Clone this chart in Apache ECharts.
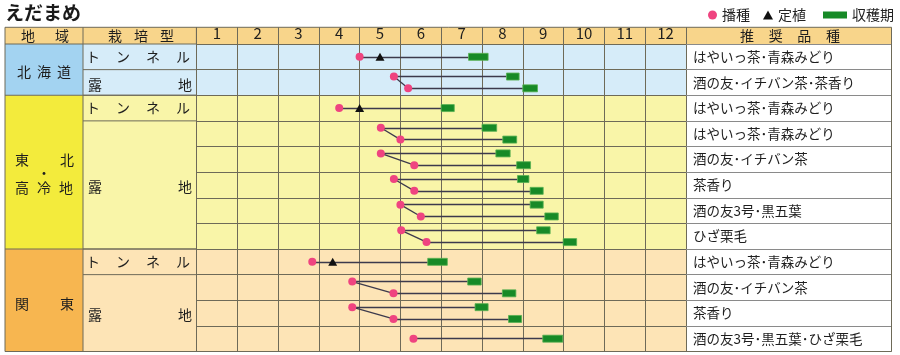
<!DOCTYPE html>
<html>
<head>
<meta charset="utf-8">
<script src="https://cdn.jsdelivr.net/npm/echarts@6/dist/echarts.min.js"></script>
<style>
  html, body { margin: 0; padding: 0; background: #fff; }
  #chart { width: 900px; height: 355px; }
</style>
</head>
<body>
<div id="chart"></div>
<script>
// ---- data ----
const months = ['1', '2', '3', '4', '5', '6', '7', '8', '9', '10', '11', '12']
const varieties = [
  'はやいっ茶･青森みどり', '酒の友･イチバン茶･茶香り',
  'はやいっ茶･青森みどり', 'はやいっ茶･青森みどり', '酒の友･イチバン茶', '茶香り', '酒の友3号･黒五葉', 'ひざ栗毛',
  'はやいっ茶･青森みどり', '酒の友･イチバン茶', '茶香り', '酒の友3号･黒五葉･ひざ栗毛'
]
const regionNames = ['北海道', '東北・高冷地', '関東']
const regionRows = [[0, 2], [2, 8], [8, 12]]
const cultNames = ['トンネル', '露地', 'トンネル', '露地', 'トンネル', '露地']
const cultRows = [[0, 1], [1, 2], [2, 3], [3, 8], [8, 9], [9, 12]]

// one entry per drawn line (month values: 0 = start of Jan, 12 = end of Dec)
const laneRow = [0, 1, 1, 2, 3, 3, 4, 4, 5, 5, 6, 6, 7, 7, 8, 9, 9, 10, 10, 11]
const sowing = [4.0, 4.84, 5.19, 3.5, 4.52, 5.0, 4.52, 5.34, 4.84, 5.34, 5.0, 5.5, 5.02, 5.64, 2.84, 3.82, 4.83, 3.82, 4.83, 5.32]
const planting = [4.5, null, null, 4.0, null, null, null, null, null, null, null, null, null, null, 3.34, null, null, null, null, null]
const harvestStart = [6.67, 7.6, 8.0, 6.0, 7.0, 7.51, 7.34, 7.85, 7.87, 8.18, 8.18, 8.54, 8.34, 8.99, 5.67, 6.65, 7.5, 6.83, 7.65, 8.49]
const harvestEnd = [7.15, 7.91, 8.36, 6.32, 7.36, 7.85, 7.69, 8.19, 8.15, 8.5, 8.5, 8.87, 8.67, 9.32, 6.15, 6.98, 7.83, 7.15, 7.97, 8.98]

// ---- layout ----
const FONT = 'Noto Sans CJK JP'
const HEAD_TOP = 27.3
const TOP = 44
const BOTTOM = 351.5
const X_REG = 5
const X_CULT = 83
const X_MON = 196.4
const X_VAR = 686
const X_END = 891.5
const RH = (BOTTOM - TOP) / 12
const GRID = '#6e6a58'
const regionColor = ['#a3d3f1', '#f3eb3c', '#f7b650']
const rowColor = ['#d6ecf9', '#f9f5a8', '#fde4b6']

// lane y inside its row
const laneY = laneRow.map((r, i) => {
  const same = laneRow.filter(v => v === r).length
  if (same === 1) return r + 0.5
  return laneRow.indexOf(r) === i ? r + 0.27 : r + 0.73
})

const lineData = []
laneRow.forEach((r, i) => {
  lineData.push({ coords: [[sowing[i], laneY[i]], [harvestStart[i], laneY[i]]] })
  if (i > 0 && laneRow[i - 1] === r) {
    lineData.push({ coords: [[sowing[i - 1], laneY[i - 1]], [sowing[i], laneY[i]]] })
  }
})
const sowData = laneRow.map((r, i) => [sowing[i], laneY[i]])
const plantData = []
planting.forEach((p, i) => { if (p !== null) plantData.push([p, laneY[i]]) })
const harvestData = laneRow.map((r, i) => [harvestStart[i], harvestEnd[i], laneY[i]])

// ---- table frame (left columns, header, row colours) ----
const rowY = i => TOP + i * RH
const g = []
function rect (x, y, w, h, fill) {
  g.push({ type: 'rect', z: -10, shape: { x: x, y: y, width: w, height: h }, style: { fill: fill } })
}
function line (x1, y1, x2, y2, c) {
  g.push({ type: 'line', z: 5, shape: { x1: x1, y1: y1, x2: x2, y2: y2 }, style: { stroke: c || GRID, lineWidth: 1 } })
}
function text (s, x, y) {
  g.push({ type: 'text', z: 6, x: x, y: y, style: { text: s, fill: '#1e1e1e', fontSize: 14, fontFamily: FONT, align: 'center', verticalAlign: 'middle' } })
}
function spread (chars, x1, x2, y) {
  const n = chars.length
  for (let k = 0; k < n; k++) text(chars[k], n === 1 ? (x1 + x2) / 2 : x1 + (x2 - x1) * k / (n - 1), y)
}

rect(X_REG, HEAD_TOP, X_END - X_REG, TOP - HEAD_TOP, '#f8d58b')
regionRows.forEach((rr, i) => {
  const h = rowY(rr[1]) - rowY(rr[0])
  rect(X_REG, rowY(rr[0]), X_CULT - X_REG, h, regionColor[i])
  rect(X_CULT, rowY(rr[0]), X_VAR - X_CULT, h, rowColor[i])
  if (rr[0] > 0) line(X_REG, rowY(rr[0]), X_MON, rowY(rr[0]))
})
cultRows.forEach((cr, i) => {
  if (cr[0] > 0) line(X_CULT, rowY(cr[0]), X_MON, rowY(cr[0]))
  const cy = (rowY(cr[0]) + rowY(cr[1])) / 2
  if (cultNames[i] === 'トンネル') spread(cultNames[i].split(''), 93, 183, cy)
  else spread(cultNames[i].split(''), 95, 185, cy + 2)
})
// outer frame and header lines
line(X_REG, HEAD_TOP, X_END, HEAD_TOP)
line(X_REG, BOTTOM, X_END, BOTTOM)
line(X_REG, HEAD_TOP, X_REG, BOTTOM)
line(X_CULT, HEAD_TOP, X_CULT, BOTTOM)
line(X_END, HEAD_TOP, X_END, BOTTOM)
line(X_REG, TOP, X_MON, TOP)
line(X_MON, HEAD_TOP, X_MON, TOP)

spread(['地', '域'], 28, 62, 35.6)
spread(['栽', '培', '型'], 115, 167, 35.6)
spread(['推', '奨', '品', '種'], 747, 833, 35.6)
// region names
spread(['北', '海', '道'], 24, 64, rowY(1) + 2)
const tc = rowY(5)
spread(['東', '北'], 22, 67, tc - 12)
text('・', 44, tc + 1)
spread(['高', '冷', '地'], 22, 66, tc + 16)
spread(['関', '東'], 22, 67, rowY(10) + 3)

// ---- chart ----
const legendText = { fontSize: 14, color: '#222', fontFamily: FONT }
const chart = echarts.init(document.getElementById('chart'))
chart.setOption({
  animation: false,
  backgroundColor: '#fff',
  title: {
    text: 'えだまめ',
    left: 5,
    top: 3,
    padding: 0,
    textStyle: { fontSize: 19, fontWeight: 'bold', color: '#1a1a1a', fontFamily: FONT }
  },
  legend: [
    { data: [{ name: '播種', icon: 'circle' }], left: 708, top: 8, padding: 0, itemWidth: 9, itemHeight: 9, selectedMode: false, textStyle: legendText },
    { data: [{ name: '定植', icon: 'triangle' }], left: 763, top: 8, padding: 0, itemWidth: 10, itemHeight: 9, selectedMode: false, textStyle: legendText },
    { data: [{ name: '収穫期', icon: 'rect' }], left: 823, top: 8, padding: 0, itemWidth: 24, itemHeight: 7, selectedMode: false, textStyle: legendText }
  ],
  grid: { left: X_MON, top: TOP, width: X_VAR - X_MON, height: BOTTOM - TOP },
  xAxis: [
    {
      type: 'value',
      min: 0,
      max: 12,
      interval: 1,
      axisLine: { show: false },
      axisTick: { show: false },
      axisLabel: { show: false },
      splitLine: { show: true, lineStyle: { color: GRID, width: 1 } }
    },
    {
      type: 'category',
      position: 'top',
      data: months,
      axisLine: { show: true, lineStyle: { color: GRID, width: 1 } },
      axisTick: { show: true, interval: 0, length: TOP - HEAD_TOP, lineStyle: { color: GRID } },
      axisLabel: { interval: 0, margin: 3, fontSize: 15, color: '#1e1e1e', fontFamily: FONT },
      splitLine: { show: false }
    }
  ],
  yAxis: [
    {
      type: 'value',
      min: 0,
      max: 12,
      interval: 1,
      inverse: true,
      axisLine: { show: false },
      axisTick: { show: false },
      axisLabel: { show: false },
      splitLine: { show: true, lineStyle: { color: GRID, width: 1 } }
    },
    {
      type: 'category',
      position: 'right',
      inverse: true,
      data: varieties,
      axisLine: { show: true, lineStyle: { color: GRID, width: 1 } },
      axisTick: { show: true, interval: 0, length: X_END - X_VAR, lineStyle: { color: '#8a8a8a' } },
      axisLabel: { interval: 0, margin: 7, align: 'left', fontSize: 13.5, color: '#1e1e1e', fontFamily: FONT }
    }
  ],
  graphic: g,
  series: [
    {
      type: 'lines',
      coordinateSystem: 'cartesian2d',
      z: 3,
      silent: true,
      lineStyle: { color: '#3c3a4c', width: 1.3, opacity: 1 },
      data: lineData
    },
    {
      name: '収穫期',
      type: 'custom',
      z: 4,
      itemStyle: { color: '#178a27' },
      encode: { x: [0, 1], y: 2 },
      renderItem: function (params, api) {
        const s = api.coord([api.value(0), api.value(2)])
        const e = api.coord([api.value(1), api.value(2)])
        return {
          type: 'rect',
          shape: { x: s[0], y: s[1] - 3.5, width: e[0] - s[0], height: 7 },
          style: { fill: '#178a27', stroke: '#58b050', lineWidth: 0.8 }
        }
      },
      data: harvestData
    },
    {
      name: '播種',
      type: 'scatter',
      z: 5,
      symbol: 'circle',
      symbolSize: 8,
      itemStyle: { color: '#ef4480', opacity: 1 },
      data: sowData
    },
    {
      name: '定植',
      type: 'scatter',
      z: 5,
      symbol: 'triangle',
      symbolSize: [9, 8],
      itemStyle: { color: '#111', opacity: 1 },
      data: plantData
    }
  ]
})
</script>
</body>
</html>
